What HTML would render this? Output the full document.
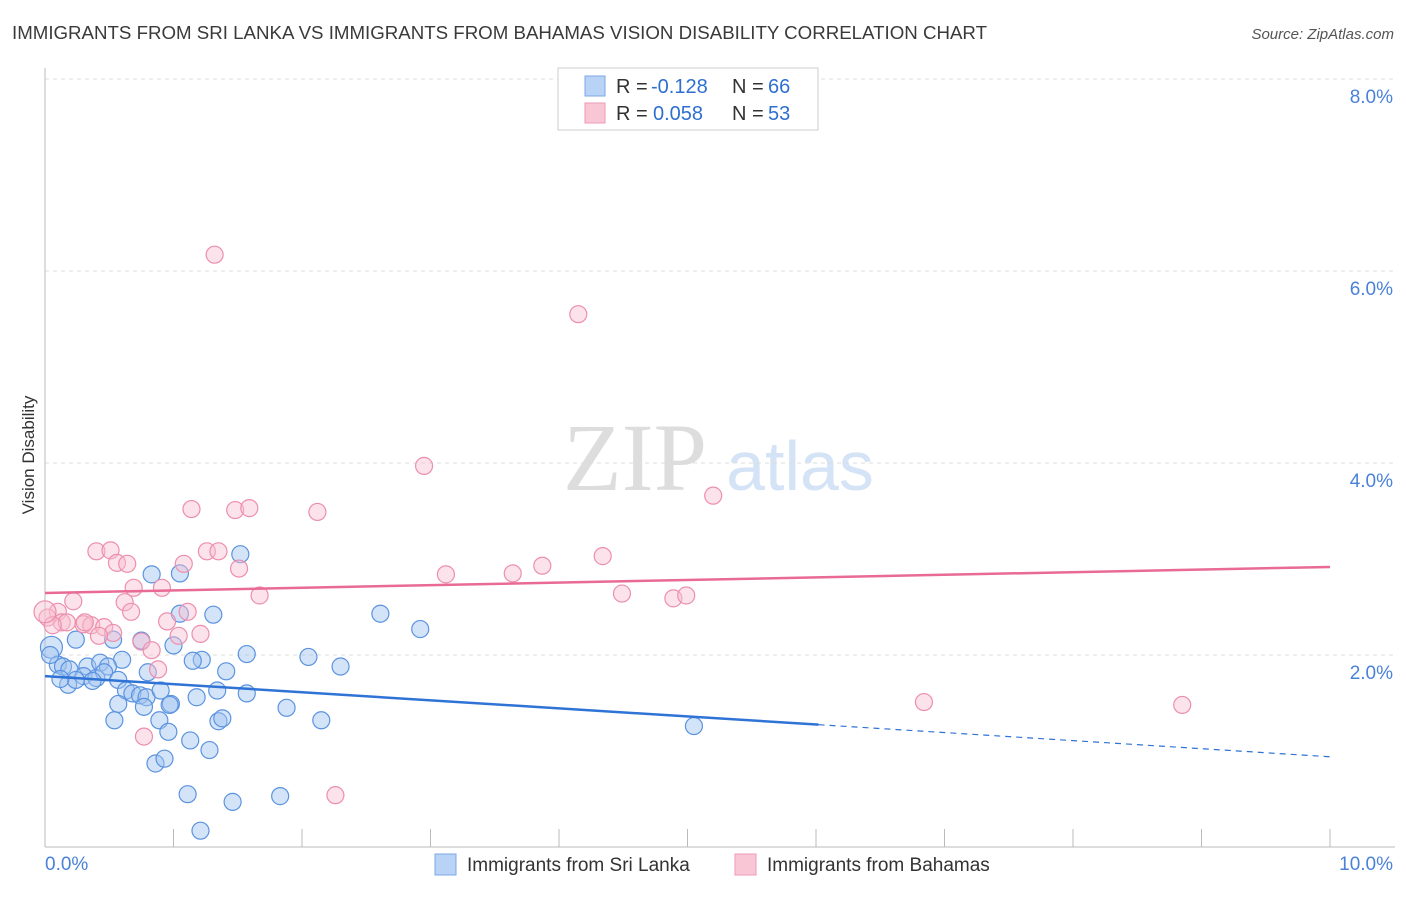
<!DOCTYPE html>
<html><head><meta charset="utf-8"><style>
body{margin:0;background:#fff;font-family:"Liberation Sans",sans-serif;}
</style></head><body>
<svg width="1406" height="892" xmlns="http://www.w3.org/2000/svg" font-family="Liberation Sans, sans-serif">
<text x="12" y="39" font-size="18.7" fill="#3a3a3a">IMMIGRANTS FROM SRI LANKA VS IMMIGRANTS FROM BAHAMAS VISION DISABILITY CORRELATION CHART</text>
<text x="1394" y="39" font-size="15" fill="#555" font-style="italic" text-anchor="end">Source: ZipAtlas.com</text>
<text x="34" y="455" font-size="17" fill="#333" text-anchor="middle" transform="rotate(-90 34 455)">Vision Disability</text>
<g><text x="635" y="490" font-size="96" fill="#ddd" font-family="Liberation Serif, serif" text-anchor="middle">ZIP</text><text x="800" y="490" font-size="70" fill="#d4e3f5" text-anchor="middle">atlas</text></g>
<g id="grid"></g><g id="axes"></g><g id="marks"></g><g id="trend"></g>
<g>
<rect x="558" y="68" width="260" height="62" fill="#fff" stroke="#ccc"/>
<rect x="585" y="76" width="20" height="20" fill="#b8d3f5" stroke="#7aa8e6"/>
<rect x="585" y="103" width="20" height="20" fill="#f9c6d6" stroke="#ef9ab5"/>
<g font-size="20" fill="#333">
<text x="616" y="93">R =</text><text x="651" y="93" fill="#2f6fd1">-0.128</text><text x="732" y="93">N =</text><text x="768" y="93" fill="#2f6fd1">66</text>
<text x="616" y="120">R =</text><text x="653" y="120" fill="#2f6fd1">0.058</text><text x="732" y="120">N =</text><text x="768" y="120" fill="#2f6fd1">53</text>
</g>
</g>
<g>
<rect x="435" y="854" width="21" height="21" fill="#b8d3f5" stroke="#7aa8e6"/>
<text x="467" y="871" font-size="19" fill="#333">Immigrants from Sri Lanka</text>
<rect x="735" y="854" width="21" height="21" fill="#f9c6d6" stroke="#ef9ab5"/>
<text x="767" y="871" font-size="19" fill="#333">Immigrants from Bahamas</text>
</g>
</svg>
<script>
const yTicks=[2,4,6,8];
const yTickLabels=["2.0%","4.0%","6.0%","8.0%"];
const xTicks=[0,1,2,3,4,5,6,7,8,9,10];
const sriLankaX=[1.52,0.83,1.05,1.05,1.31,2.61,2.92,0.53,0.75,0.24,1.00,1.57,2.05,2.30,1.22,1.15,0.60,0.05,0.10,0.14,0.19,0.33,0.43,0.49,0.30,0.40,0.46,0.57,0.18,0.24,0.37,1.41,0.80,0.63,0.68,0.74,0.79,0.90,1.34,1.57,0.57,0.98,1.18,1.88,2.15,0.89,1.35,0.54,0.77,1.38,0.96,1.13,1.28,0.86,0.93,1.11,1.46,1.83,1.21,5.05,0.12,0.97,0.04];
const sriLankaY=[3.05,2.84,2.85,2.43,2.42,2.43,2.27,2.16,2.15,2.16,2.10,2.01,1.98,1.88,1.95,1.94,1.95,2.08,1.90,1.88,1.85,1.88,1.92,1.88,1.78,1.76,1.82,1.74,1.69,1.74,1.73,1.83,1.82,1.63,1.60,1.58,1.56,1.63,1.63,1.60,1.49,1.49,1.56,1.45,1.32,1.32,1.31,1.32,1.46,1.34,1.20,1.11,1.01,0.87,0.92,0.55,0.47,0.53,0.17,1.26,1.75,1.48,2.00];
const bahamasX=[1.32,4.15,2.95,5.20,1.14,1.48,1.59,2.12,0.40,0.51,0.56,0.64,1.26,1.35,1.08,1.51,4.34,3.87,3.12,3.64,0.91,0.69,1.67,4.49,4.89,4.99,0.22,0.62,0.67,1.11,0.95,1.21,1.04,0.10,0.13,0.17,0.30,0.36,0.46,0.02,0.53,0.75,0.83,0.88,0.77,2.26,6.84,8.85,0.31,0.06,0.42,0.00];
const bahamasY=[6.17,5.55,3.97,3.66,3.52,3.51,3.53,3.49,3.08,3.09,2.96,2.95,3.08,3.08,2.95,2.90,3.03,2.93,2.84,2.85,2.70,2.70,2.62,2.64,2.59,2.62,2.56,2.55,2.45,2.45,2.35,2.22,2.20,2.45,2.34,2.34,2.32,2.31,2.29,2.39,2.23,2.14,2.05,1.85,1.15,0.54,1.51,1.48,2.34,2.31,2.20,2.45];
const blueTrend=[1.78,0.94]; const blueSolidEnd=6.02;
const pinkTrend=[2.646,2.917];
const NS="http://www.w3.org/2000/svg";
const X=v=>45+v*128.5, Y=v=>847-v*96;
function mk(t,a,p){const e=document.createElementNS(NS,t);for(const k in a)e.setAttribute(k,a[k]);document.getElementById(p).appendChild(e);return e;}
yTicks.forEach((t,i)=>{const l=mk('line',{x1:45,x2:1395,y1:Y(t),y2:Y(t),stroke:'#ddd','stroke-dasharray':'4 4'},'grid');


const tx=mk('text',{x:1393,y:Y(t)+24,'font-size':19,fill:'#4a82d8','text-anchor':'end'},'grid');tx.textContent=yTickLabels[i];

});
mk('line',{x1:45,x2:45,y1:68,y2:847,stroke:'#bbb'},'axes');
mk('line',{x1:45,x2:1395,y1:847,y2:847,stroke:'#bbb'},'axes');
xTicks.forEach(t=>{const l=mk('line',{x1:X(t),x2:X(t),y1:829,y2:847,stroke:'#bbb'},'axes');

});
let a=mk('text',{x:45,y:870,'font-size':19,fill:'#4a82d8'},'axes');a.textContent='0.0%';

a=mk('text',{x:1393,y:870,'font-size':19,fill:'#4a82d8','text-anchor':'end'},'axes');a.textContent='10.0%';

sriLankaX.forEach((x,i)=>{const c=mk('circle',{cx:X(x),cy:Y(sriLankaY[i]),r:(i==17?11:8.5),fill:'rgba(160,196,240,0.45)',stroke:'#5b93e0','stroke-width':1.2},'marks');

});
bahamasX.forEach((x,i)=>{const c=mk('circle',{cx:X(x),cy:Y(bahamasY[i]),r:(i==51?11:8.5),fill:'rgba(248,190,208,0.45)',stroke:'#ec8fae','stroke-width':1.2},'marks');

});
const bAt=x=>blueTrend[0]+(blueTrend[1]-blueTrend[0])*x/10;
let t=mk('line',{x1:X(0),y1:Y(bAt(0)),x2:X(blueSolidEnd),y2:Y(bAt(blueSolidEnd)),stroke:'#2f73d6','stroke-width':2.5},'trend');

t=mk('line',{x1:X(blueSolidEnd),y1:Y(bAt(blueSolidEnd)),x2:X(10),y2:Y(bAt(10)),stroke:'#2f73d6','stroke-width':1.2,'stroke-dasharray':'6 5'},'trend');

t=mk('line',{x1:X(0),y1:Y(pinkTrend[0]),x2:X(10),y2:Y(pinkTrend[1]),stroke:'#e86a95','stroke-width':2.5},'trend');

</script>
</body></html>
